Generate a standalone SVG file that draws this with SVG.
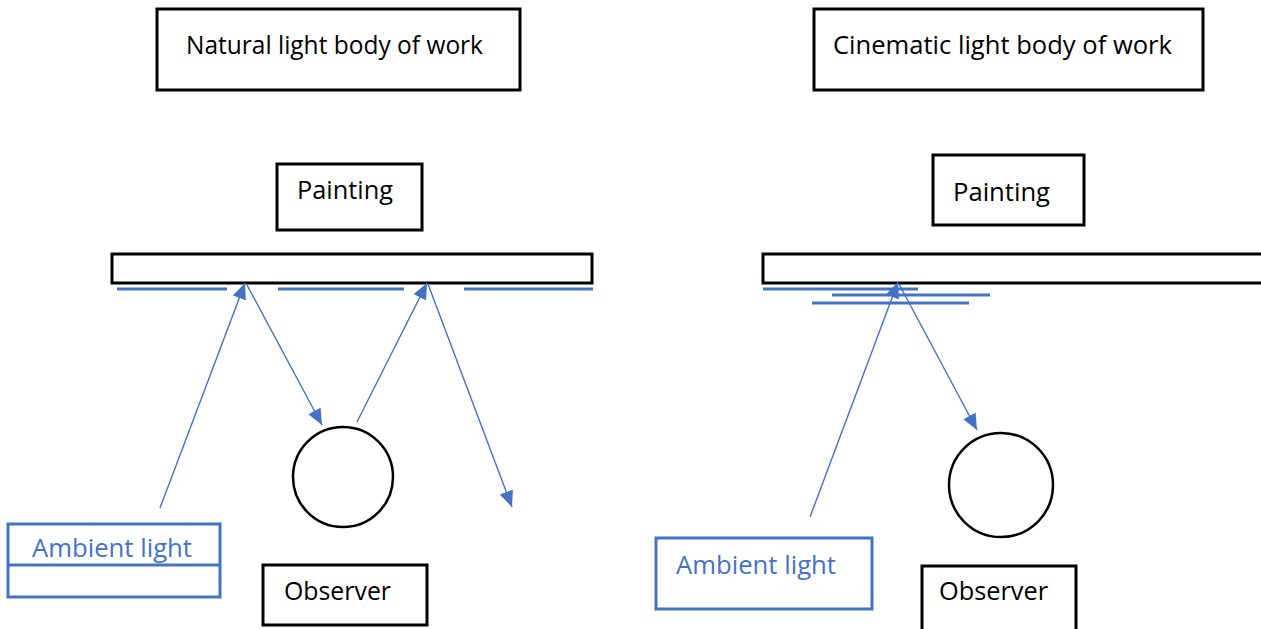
<svg xmlns="http://www.w3.org/2000/svg" width="1261" height="629" viewBox="0 0 1261 629">
<style>
.box{fill:#fff;stroke:#000;stroke-width:3}
.bbox{fill:#fff;stroke:#4472C4;stroke-width:3}
.t{font-family:"Open Sans","Liberation Sans",sans-serif;font-size:25px;fill:#000}
.bt{font-family:"Open Sans","Liberation Sans",sans-serif;font-size:25px;fill:#4472C4}
.ray{stroke:#4472C4;stroke-width:1.4;fill:none;marker-end:url(#ah)}
.refl{stroke:#4472C4;stroke-width:3}
.obs{fill:#fff;stroke:#000;stroke-width:2.5}
</style>
<defs>
<marker id="ah" markerUnits="userSpaceOnUse" markerWidth="17" markerHeight="14" refX="16" refY="7" orient="auto">
<path d="M0,0 L16,7 L0,14 z" fill="#4472C4"/>
</marker>
</defs>
<rect width="1261" height="629" fill="#fff"/>
<g id="title-natural"><rect class="box" x="157" y="9" width="363" height="81"/><text class="t" x="186" y="54" textLength="297" lengthAdjust="spacingAndGlyphs">Natural light body of work</text></g>
<g id="title-cinematic"><rect class="box" x="814" y="9" width="389" height="81"/><text class="t" x="833" y="54" textLength="339" lengthAdjust="spacingAndGlyphs">Cinematic light body of work</text></g>
<g id="painting-left"><rect class="box" x="277" y="164" width="145" height="66"/><text class="t" x="297" y="199" textLength="96" lengthAdjust="spacingAndGlyphs">Painting</text></g>
<g id="painting-right"><rect class="box" x="933" y="155" width="151" height="70"/><text class="t" x="953" y="201" textLength="97" lengthAdjust="spacingAndGlyphs">Painting</text></g>
<g id="canvas-left"><rect class="box" x="112" y="254" width="480" height="29"/></g>
<g id="canvas-right"><rect class="box" x="763" y="254" width="510" height="29"/></g>
<g id="reflection-left">
<line class="refl" x1="117" y1="289" x2="227" y2="289"/>
<line class="refl" x1="278" y1="289" x2="404" y2="289"/>
<line class="refl" x1="464" y1="289" x2="593" y2="289"/>
</g>
<g id="reflection-right">
<line class="refl" x1="763" y1="289" x2="918" y2="289"/>
<line class="refl" x1="832" y1="295" x2="990" y2="295"/>
<line class="refl" x1="812" y1="303" x2="969" y2="303"/>
</g>
<g id="observer-head-left"><circle class="obs" cx="343" cy="477" r="50"/></g>
<g id="observer-head-right"><circle class="obs" cx="1001" cy="485" r="52"/></g>
<g id="ambient-left"><rect class="bbox" x="8" y="524" width="212" height="73"/><line x1="8" y1="565" x2="220" y2="565" stroke="#4472C4" stroke-width="3"/><text class="bt" x="32" y="557" textLength="160" lengthAdjust="spacingAndGlyphs">Ambient light</text></g>
<g id="ambient-right"><rect class="bbox" x="656" y="538" width="216" height="71"/><text class="bt" x="676" y="574" textLength="160" lengthAdjust="spacingAndGlyphs">Ambient light</text></g>
<g id="observer-left"><rect class="box" x="263" y="565" width="164" height="60"/><text class="t" x="284" y="600" textLength="107" lengthAdjust="spacingAndGlyphs">Observer</text></g>
<g id="observer-right"><rect class="box" x="922" y="566" width="154" height="70"/><text class="t" x="939" y="600" textLength="109" lengthAdjust="spacingAndGlyphs">Observer</text></g>
<g id="connectors">
<line class="ray" x1="160" y1="508" x2="245" y2="283"/>
<line class="ray" x1="247" y1="285" x2="322" y2="425"/>
<line class="ray" x1="357" y1="422" x2="427" y2="283"/>
<line class="ray" x1="428" y1="284" x2="512" y2="507"/>
<line class="ray" x1="810" y1="517" x2="898" y2="282"/>
<line class="ray" x1="899" y1="284" x2="977" y2="430"/>
</g>
</svg>
